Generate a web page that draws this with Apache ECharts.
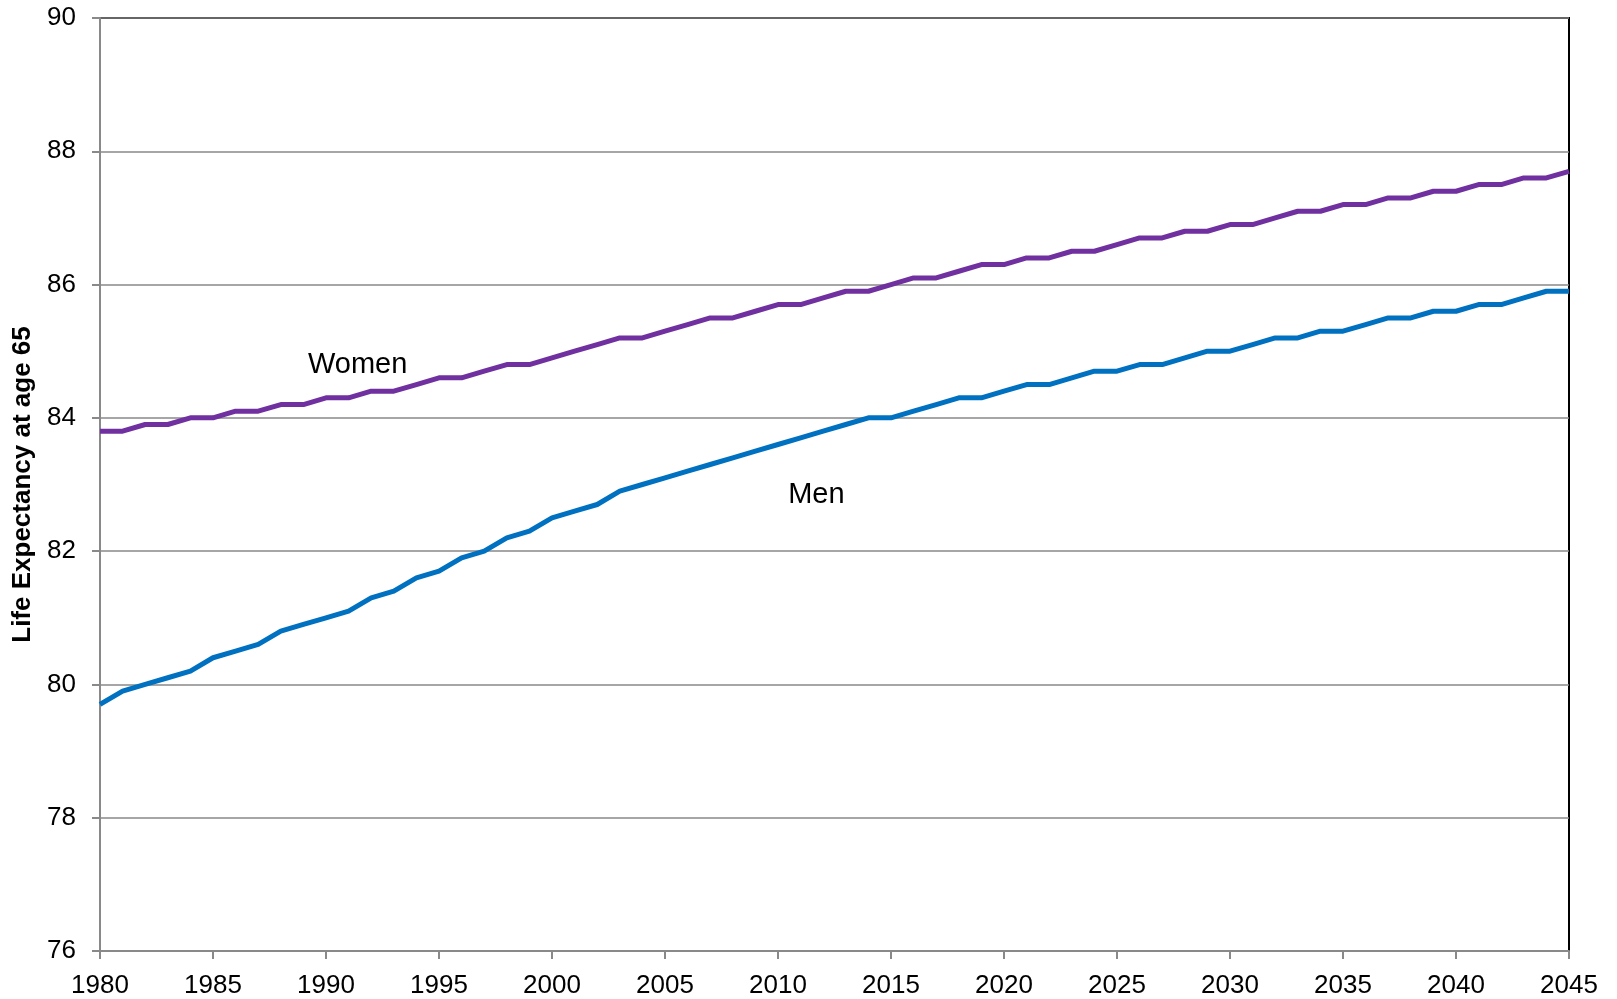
<!DOCTYPE html>
<html>
<head>
<meta charset="utf-8">
<title>Life Expectancy at age 65</title>
<script src="https://cdn.jsdelivr.net/npm/echarts@6/dist/echarts.min.js"></script>
<style>
  html, body { margin: 0; padding: 0; background: #ffffff; }
  #chart { width: 1617px; height: 999px; }
</style>
</head>
<body>
<div id="chart"></div>
<script>
// Period life expectancy at age 65, by year (projected beyond the present)
const years = [];
for (let y = 1980; y <= 2045; y++) years.push(y);

const women = [
  83.8, 83.8, 83.9, 83.9, 84.0, 84.0, 84.1, 84.1, 84.2, 84.2,
  84.3, 84.3, 84.4, 84.4, 84.5, 84.6, 84.6, 84.7, 84.8, 84.8,
  84.9, 85.0, 85.1, 85.2, 85.2, 85.3, 85.4, 85.5, 85.5, 85.6,
  85.7, 85.7, 85.8, 85.9, 85.9, 86.0, 86.1, 86.1, 86.2, 86.3,
  86.3, 86.4, 86.4, 86.5, 86.5, 86.6, 86.7, 86.7, 86.8, 86.8,
  86.9, 86.9, 87.0, 87.1, 87.1, 87.2, 87.2, 87.3, 87.3, 87.4,
  87.4, 87.5, 87.5, 87.6, 87.6, 87.7
];

const men = [
  79.7, 79.9, 80.0, 80.1, 80.2, 80.4, 80.5, 80.6, 80.8, 80.9,
  81.0, 81.1, 81.3, 81.4, 81.6, 81.7, 81.9, 82.0, 82.2, 82.3,
  82.5, 82.6, 82.7, 82.9, 83.0, 83.1, 83.2, 83.3, 83.4, 83.5,
  83.6, 83.7, 83.8, 83.9, 84.0, 84.0, 84.1, 84.2, 84.3, 84.3,
  84.4, 84.5, 84.5, 84.6, 84.7, 84.7, 84.8, 84.8, 84.9, 85.0,
  85.0, 85.1, 85.2, 85.2, 85.3, 85.3, 85.4, 85.5, 85.5, 85.6,
  85.6, 85.7, 85.7, 85.8, 85.9, 85.9
];

const seriesNames = ['Women', 'Men'];
const yAxisTitle = 'Life Expectancy at age 65';

// Where each series name is written inside the plot, in data coordinates
const nameAnchors = {
  Women: [1991.4, 84.80],
  Men: [2011.7, 82.84]
};

const FONT = '"Liberation Sans", Arial, Helvetica, sans-serif';
const GRID_GRAY = '#898989';

function pairs(values) {
  return years.map((y, i) => [y, values[i]]);
}

function lineSeries(name, values, color) {
  return {
    name: name,
    type: 'line',
    data: pairs(values),
    showSymbol: false,
    symbol: 'none',
    silent: true,
    animation: false,
    lineStyle: { color: color, width: 5, join: 'round', cap: 'butt' },
    markPoint: {
      silent: true,
      animation: false,
      symbol: 'circle',
      symbolSize: 0,
      label: {
        show: true,
        position: 'inside',
        formatter: name,
        color: '#000000',
        fontFamily: FONT,
        fontSize: 29
      },
      data: [{ coord: nameAnchors[name] }]
    }
  };
}

const chart = echarts.init(document.getElementById('chart'), null, { renderer: 'canvas' });

chart.setOption({
  backgroundColor: '#ffffff',
  animation: false,
  grid: {
    left: 100,
    right: 48,
    top: 18,
    bottom: 46,
    show: true,
    borderColor: '#000000',
    borderWidth: 2,
    backgroundColor: 'transparent'
  },
  xAxis: {
    type: 'value',
    min: 1980,
    max: 2045,
    interval: 5,
    axisLine: { show: true, lineStyle: { color: GRID_GRAY, width: 2 } },
    axisTick: { show: true, inside: false, length: 8, lineStyle: { color: GRID_GRAY, width: 2 } },
    splitLine: { show: false },
    axisLabel: {
      color: '#000000',
      fontFamily: FONT,
      fontSize: 26,
      margin: 22,
      formatter: v => String(v)
    }
  },
  yAxis: {
    type: 'value',
    min: 76,
    max: 90,
    interval: 2,
    name: yAxisTitle,
    nameLocation: 'middle',
    nameGap: 54,
    nameTextStyle: {
      color: '#000000',
      fontFamily: FONT,
      fontSize: 26,
      fontWeight: 'bold'
    },
    axisLine: { show: true, lineStyle: { color: GRID_GRAY, width: 2 } },
    axisTick: { show: true, inside: false, length: 8, lineStyle: { color: GRID_GRAY, width: 2 } },
    splitLine: { show: true, lineStyle: { color: GRID_GRAY, width: 1.5 } },
    axisLabel: {
      color: '#000000',
      fontFamily: FONT,
      fontSize: 26,
      margin: 24
    }
  },
  series: [
    lineSeries(seriesNames[0], women, '#7030A0'),
    lineSeries(seriesNames[1], men, '#0070C0')
  ]
});
</script>
</body>
</html>
